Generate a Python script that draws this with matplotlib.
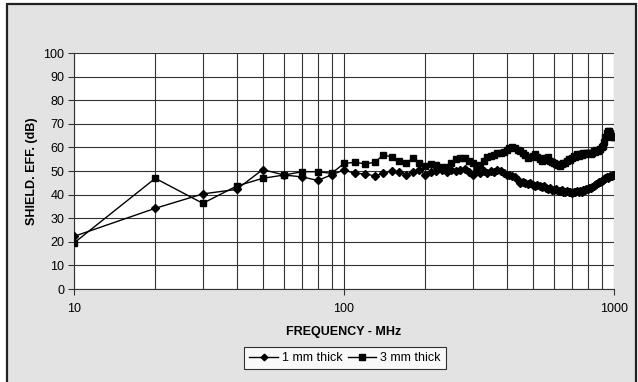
import matplotlib
matplotlib.use("Agg")
import matplotlib.pyplot as plt
from matplotlib.patches import Rectangle
from matplotlib.ticker import FixedLocator, NullFormatter

plt.rcParams['font.family'] = ['Liberation Sans', 'DejaVu Sans']

freq = list(range(10, 100, 10)) + list(range(100, 1001, 10))

thick_1mm = [22.3, 34.2, 40.3, 42.2, 50.6, 48.3, 47.5, 46.0, 48.4,
             50.4, 49.0, 48.8, 47.9, 49.0, 50.1, 49.6, 48.3, 49.7, 50.5,
             48.3, 49.4, 49.9, 50.6, 49.4, 50.6, 49.9, 50.6, 51.0, 49.4,
             48.3, 49.9, 49.2, 49.9, 49.2, 49.9, 49.4, 50.6, 49.9, 49.2,
             48.3, 48.3, 47.9, 47.6, 46.2, 44.8, 45.5, 45.0, 44.5, 45.0,
             44.2, 43.8, 44.0, 43.5, 43.2, 43.6, 42.8, 42.5, 42.9, 42.0,
             41.8, 42.3, 41.6, 41.5, 41.9, 41.3, 41.0, 41.4, 40.9, 41.2,
             40.8, 41.3, 41.0, 41.4, 41.1, 41.6, 41.3, 41.8, 42.0, 42.2,
             42.5, 42.6, 43.0, 43.3, 43.8, 44.0, 44.6, 44.8, 45.2, 45.5,
             45.9, 46.3, 46.5, 46.9, 47.3, 47.0, 47.6, 47.9, 47.7, 48.2,
             48.5]

thick_3mm = [19.5, 46.9, 36.3, 43.6, 46.9, 48.3, 49.7, 49.7, 49.0,
             53.2, 53.7, 53.0, 53.7, 56.8, 56.0, 54.4, 53.5, 55.4, 53.2,
             52.3, 52.8, 52.5, 51.6, 51.6, 53.5, 55.0, 55.6, 55.4, 54.4,
             53.5, 52.1, 52.5, 54.4, 55.8, 56.4, 56.8, 57.5, 57.5, 58.2,
             58.9, 59.6, 60.3, 59.6, 58.9, 58.5, 57.8, 56.8, 55.4, 56.1,
             56.4, 57.2, 55.8, 55.0, 54.4, 55.6, 54.8, 55.9, 54.4, 53.8,
             53.5, 53.0, 52.5, 52.2, 53.0, 53.6, 53.2, 54.2, 55.0, 54.6,
             55.6, 56.2, 55.8, 57.0, 56.4, 57.0, 56.6, 57.5, 57.0, 57.8,
             57.5, 57.6, 57.3, 57.8, 58.3, 58.2, 58.8, 58.5, 59.0, 59.4,
             60.0, 60.8, 62.5, 64.5, 66.0, 67.1, 67.0, 66.2, 64.5, 64.8,
             64.5]

y_ticks = list(range(0, 101, 10))
x_major = [10, 100, 1000]
x_labels = ["10", "100", "1000"]
x_minor = [20, 30, 40, 50, 60, 70, 80, 90, 200, 300, 400, 500, 600, 700, 800, 900]

W, H = 638, 382
fig = plt.figure(figsize=(W / 100, H / 100), dpi=100, facecolor='white')
bg = Rectangle((7 / W, -0.01), (636 - 7) / W, (H - 4) / H + 0.01,
               transform=fig.transFigure, facecolor='#e3e3e3',
               edgecolor='#222222', linewidth=1.6, zorder=-10)
fig.patches.append(bg)

ax = fig.add_axes([74 / W, 1 - 289 / H, (614 - 74) / W, (289 - 53) / H])
ax.set_zorder(2)
ax.set_facecolor('white')
ax.set_xscale('log')
ax.set_xlim(10, 1000)
ax.set_ylim(0, 100)

ax.xaxis.set_major_locator(FixedLocator(x_major))
ax.set_xticklabels(x_labels)
ax.xaxis.set_minor_locator(FixedLocator(x_minor))
ax.xaxis.set_minor_formatter(NullFormatter())
ax.set_yticks(y_ticks)

ax.grid(True, which='both', axis='x', color='#333333', linewidth=0.8)
ax.grid(True, which='major', axis='y', color='#333333', linewidth=0.8)
ax.set_axisbelow(True)

for s in ['top', 'right']:
    ax.spines[s].set_visible(False)
for s in ['left', 'bottom']:
    ax.spines[s].set_color('#333333')
    ax.spines[s].set_linewidth(0.8)

ax.tick_params(axis='both', which='major', direction='out', length=4,
               width=0.8, color='#333333', labelsize=9, pad=3)
ax.tick_params(axis='x', which='minor', length=0)
ax.tick_params(axis='x', which='major', pad=6)

ax.plot(freq, thick_1mm, color='black', linewidth=1.0, marker='D',
        markersize=4.5, label='1 mm thick', zorder=3)
ax.plot(freq, thick_3mm, color='black', linewidth=1.0, marker='s',
        markersize=5, label='3 mm thick', zorder=3)

ax.set_xlabel('FREQUENCY - MHz', fontsize=9, fontweight='bold', labelpad=8)
ax.set_ylabel('SHIELD. EFF. (dB)', fontsize=9, fontweight='bold', labelpad=4)

handles, labels = ax.get_legend_handles_labels()
leg = fig.legend(handles, labels, loc='center',
                 bbox_to_anchor=(345 / W, 1 - 358 / H), ncol=2,
                 fontsize=9, frameon=True, fancybox=False, edgecolor='black',
                 handlelength=2.3, handletextpad=0.3, columnspacing=0.4,
                 borderpad=0.4, markerscale=0.75)
leg.get_frame().set_linewidth(0.8)
leg.set_zorder(5)

fig.savefig('out.png', dpi=100, facecolor=fig.get_facecolor())
